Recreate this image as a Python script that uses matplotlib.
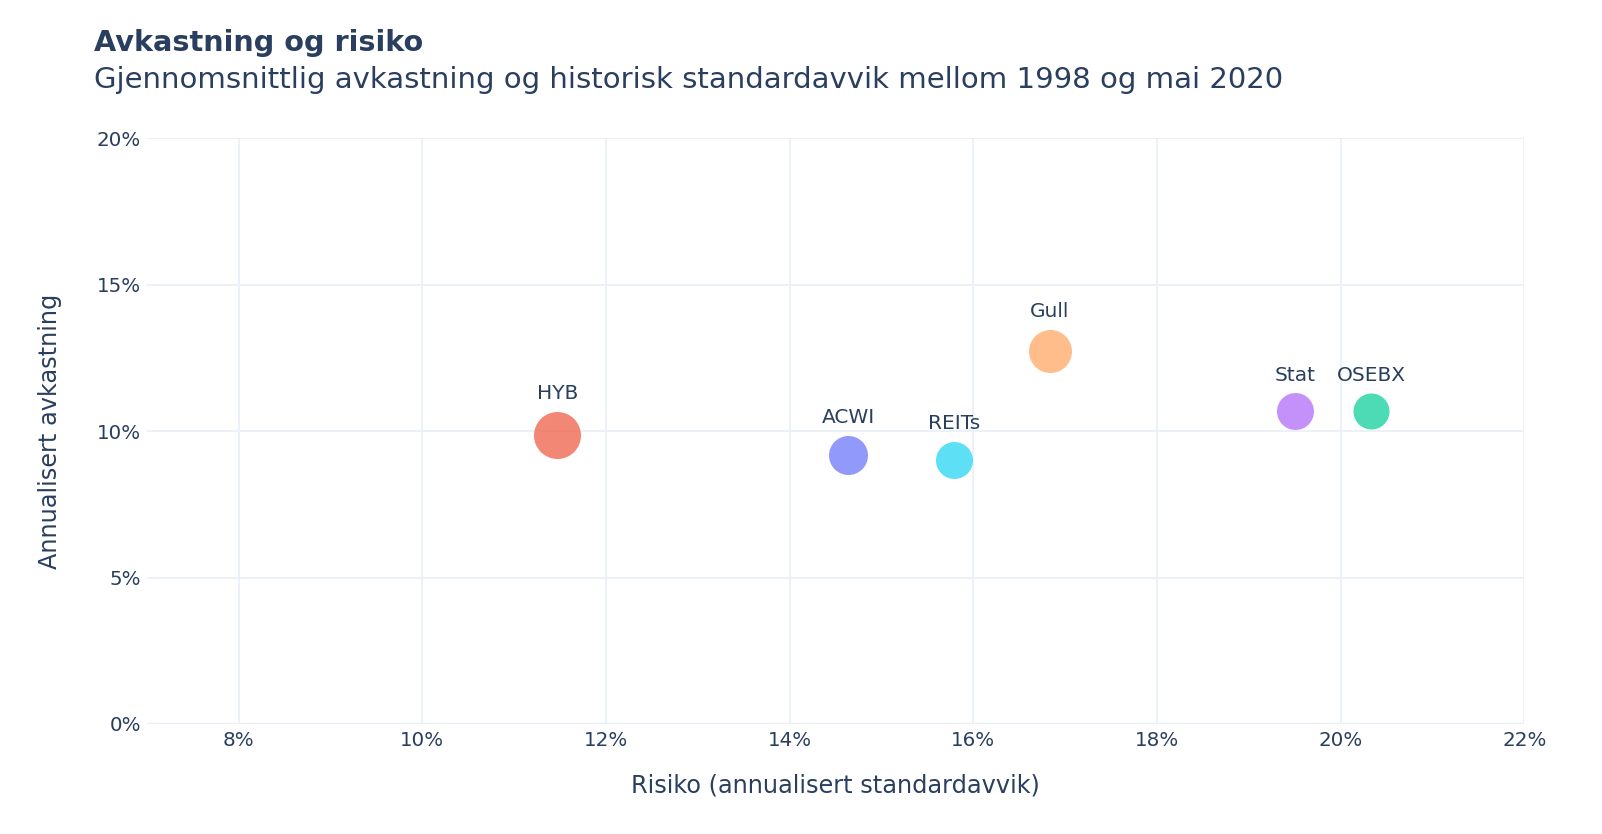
import matplotlib.pyplot as plt
import matplotlib.ticker as mticker
import numpy as np

# risk (annualised std, %) vs annualised return (%)
assets = ["HYB", "ACWI", "REITs", "Gull", "Stat", "OSEBX"]
risk = [11.47, 14.64, 15.79, 16.83, 19.50, 20.33]
ret = [9.87, 9.17, 9.01, 12.74, 10.67, 10.67]
marker_px = [47, 39, 37, 43, 37, 36]  # marker diameter in pixels
colors = ["#EF553B", "#636EFA", "#19D3F3", "#FFA15A", "#AB63FA", "#00CC96"]

x_ticks = [8, 10, 12, 14, 16, 18, 20, 22]
y_ticks = [0, 5, 10, 15, 20]

TXT = "#2a3f5f"
GRID = "#ebf0f8"

plt.rcParams['font.family'] = ['DejaVu Sans']

fig = plt.figure(figsize=(16.02, 8.34), dpi=100)
ax = fig.add_axes([0.0916, 0.1319, 0.86, 0.7026])

for name, x, y, d, c in zip(assets, risk, ret, marker_px, colors):
    ax.scatter(x, y, s=(d * 0.72) ** 2, color=c, alpha=0.7, linewidths=0, zorder=3)
    ax.annotate(name, (x, y), xytext=(0, d * 0.72 / 2 + 6), textcoords='offset points',
                ha='center', va='bottom', fontsize=14.5, color=TXT)

ax.set_xlim(7, 22)
ax.set_ylim(0, 20)
ax.set_xticks(x_ticks)
ax.set_yticks(y_ticks)
ax.xaxis.set_major_formatter(mticker.FuncFormatter(lambda v, p: f"{v:.0f}%"))
ax.yaxis.set_major_formatter(mticker.FuncFormatter(lambda v, p: f"{v:.0f}%"))
ax.tick_params(length=0, labelsize=14.3, labelcolor=TXT)
ax.tick_params(axis='x', pad=5)
ax.tick_params(axis='y', pad=4)
ax.grid(True, color=GRID, linewidth=1.3)
ax.set_axisbelow(True)
for s in ax.spines.values():
    s.set_visible(False)
ax.axhline(0, color=GRID, linewidth=2.5, zorder=1)

ax.set_xlabel("Risiko (annualisert standardavvik)", fontsize=17.3, color=TXT, labelpad=17)
ax.set_ylabel("Annualisert avkastning", fontsize=17.3, color=TXT, labelpad=25)

fig.text(94 / 1602, 1 - 43 / 834, "Avkastning og risiko", fontsize=20.7, fontweight='bold',
         color=TXT, va='center', ha='left')
fig.text(94 / 1602, 1 - 80 / 834, "Gjennomsnittlig avkastning og historisk standardavvik mellom 1998 og mai 2020",
         fontsize=21, color=TXT, va='center', ha='left')

fig.savefig("out.png", dpi=100)
